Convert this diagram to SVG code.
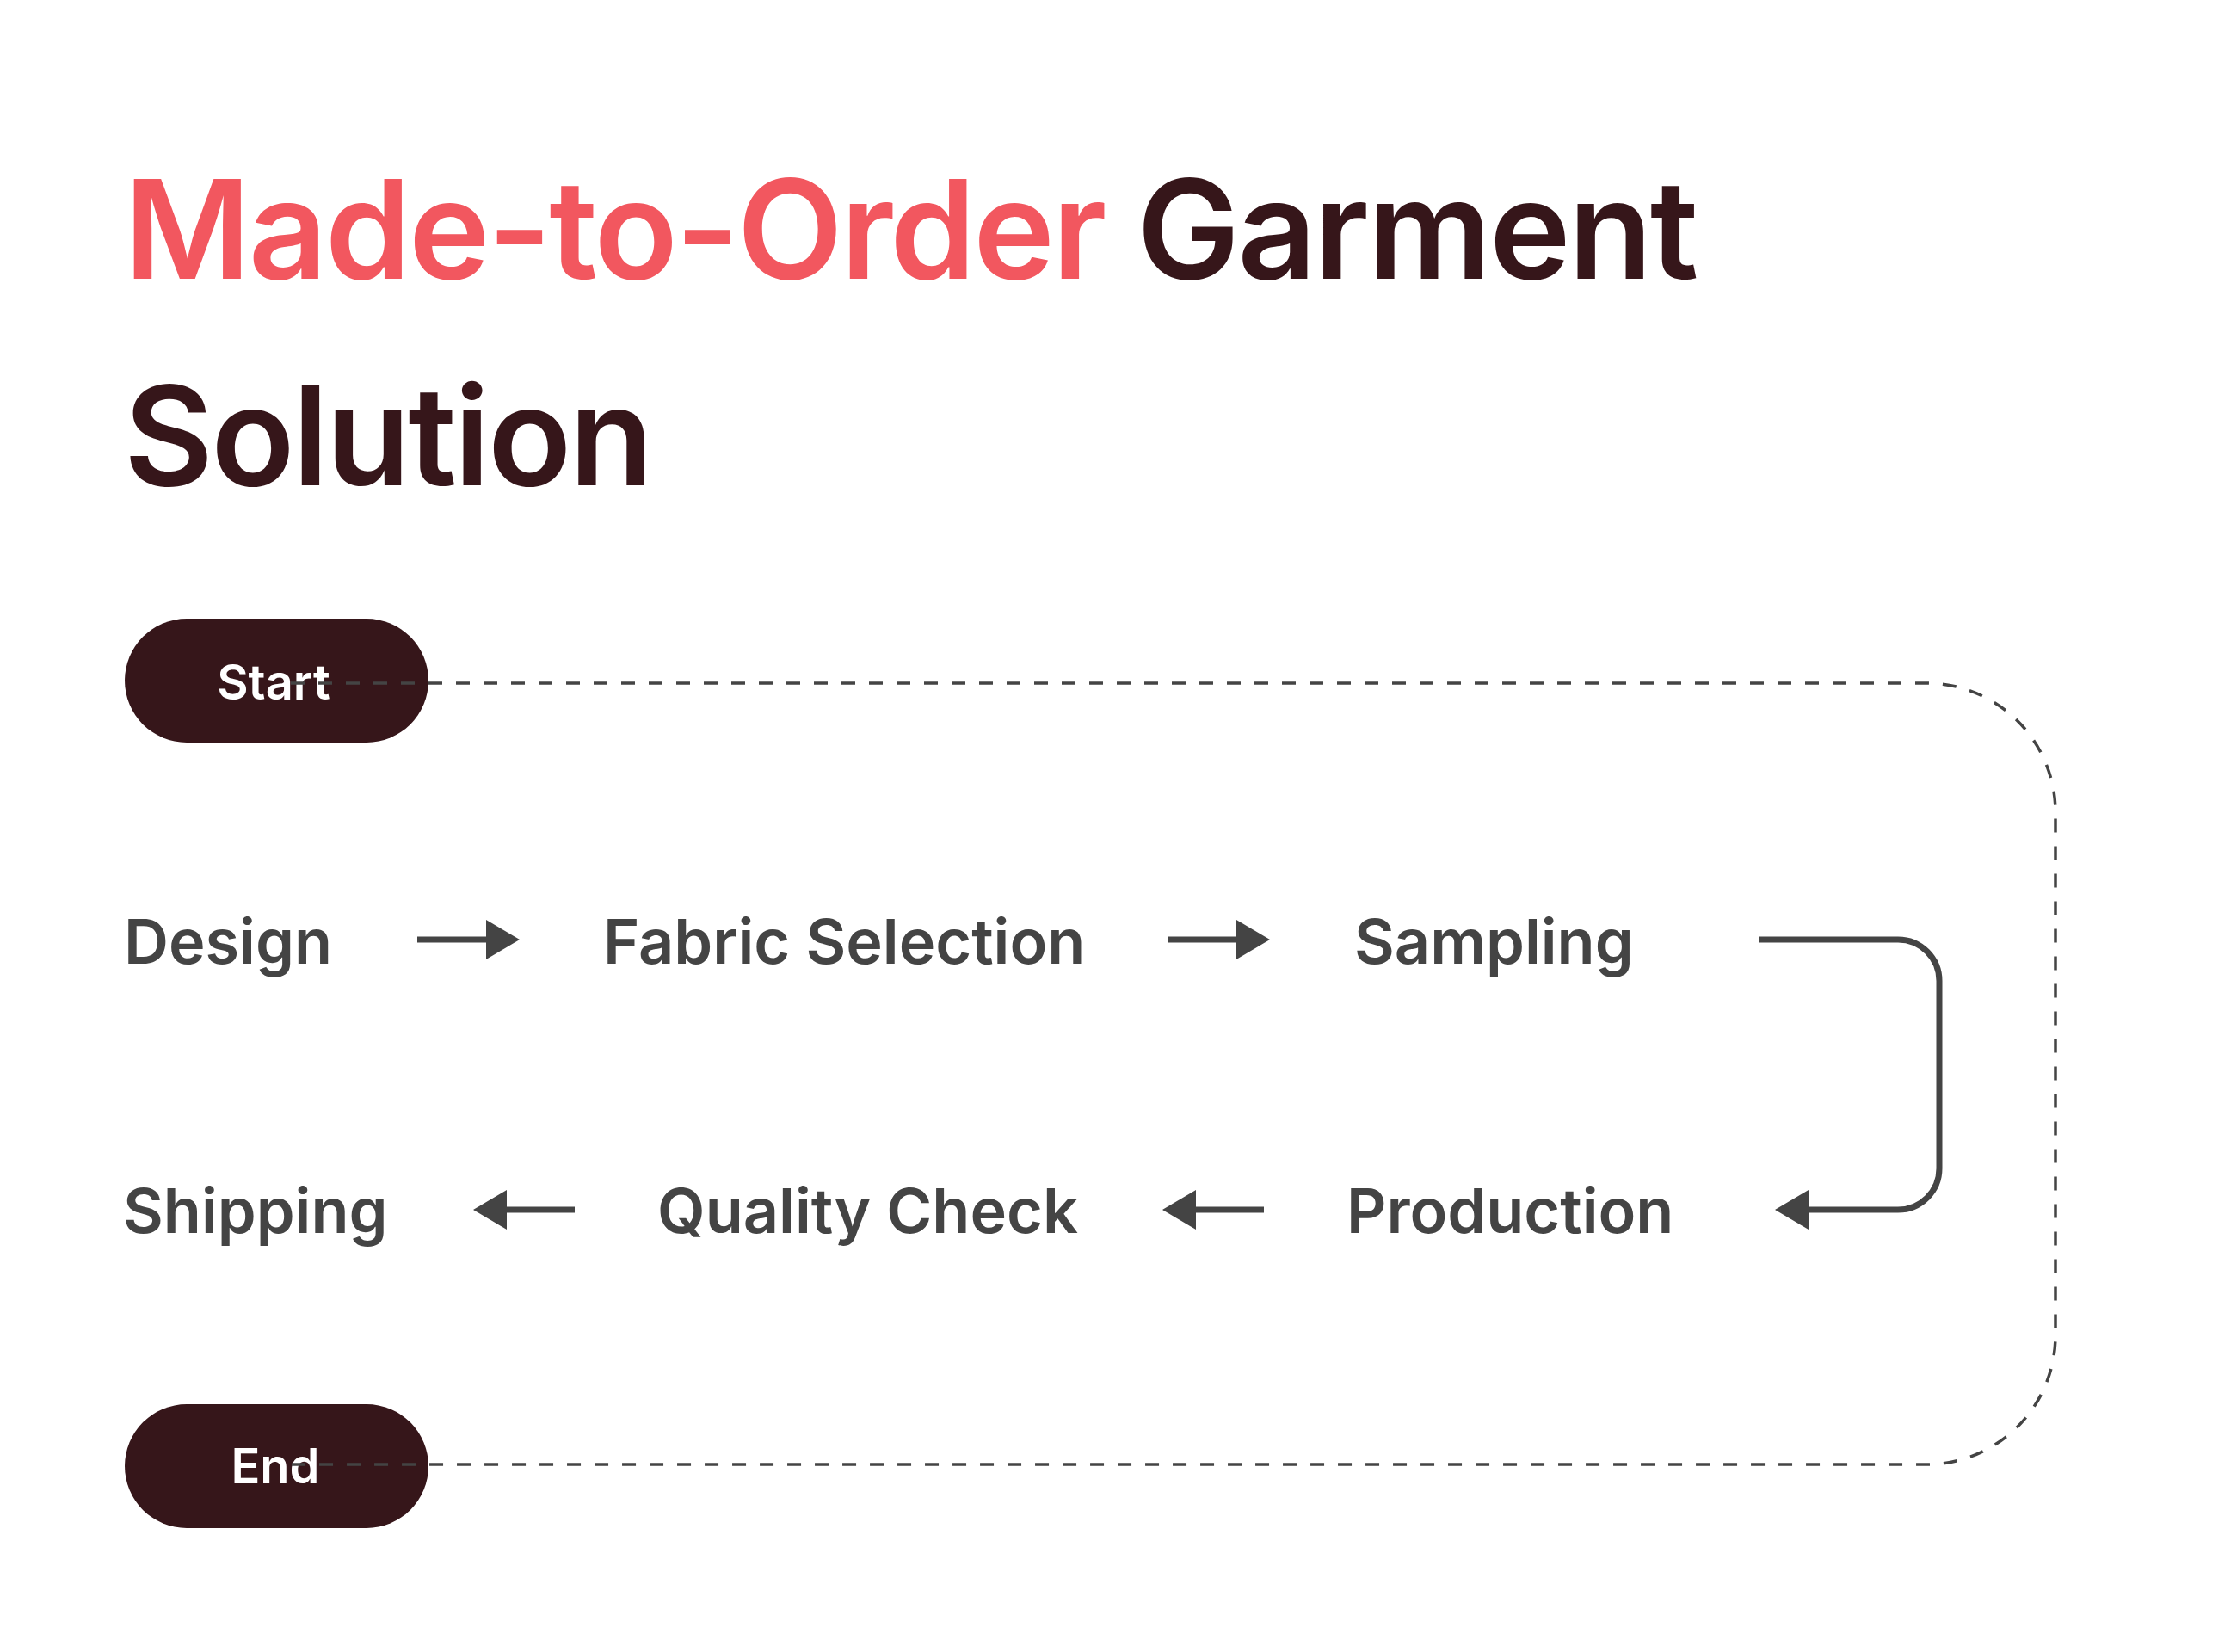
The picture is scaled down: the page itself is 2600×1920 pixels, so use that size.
<svg xmlns="http://www.w3.org/2000/svg" width="2600" height="1920" viewBox="0 0 2600 1920">
  <style>
    .title { font-family: Inter, "Noto Sans", "Liberation Sans", sans-serif; font-size: 160px; font-weight: 600; fill: #36161A; letter-spacing: -2.8px; }
    .accent { fill: #F2575F; }
    .label { font-family: Inter, "Noto Sans", "Liberation Sans", sans-serif; font-size: 72px; font-weight: 600; fill: #444444; }
    .pill { fill: #36161A; }
    .pilltext { font-family: Inter, "Noto Sans", "Liberation Sans", sans-serif; font-size: 56px; font-weight: 600; fill: #FFFFFF; text-anchor: middle; }
    .flow { fill: none; stroke: #444444; stroke-width: 7; }
    .loop { fill: none; stroke: #444444; stroke-width: 3.5; stroke-dasharray: 16 16; }
  </style>
  <defs>
    <marker id="head" markerUnits="userSpaceOnUse" markerWidth="40" markerHeight="48" refX="5" refY="24" orient="auto">
      <path d="M0,1 L39,24 L0,47 Z" fill="#444444"/>
    </marker>
  </defs>
  <rect width="2600" height="1920" fill="#FFFFFF"/>

  <g id="title">
    <text class="title" x="144" y="324"><tspan class="accent">Made-to-Order</tspan> Garment</text>
    <text class="title" x="144" y="564">Solution</text>
  </g>

  <g id="node-start">
    <rect class="pill" x="145" y="719" width="353" height="144" rx="72"/>
    <text class="pilltext" x="318" y="813">Start</text>
  </g>
  <g id="node-design"><text class="label" x="144" y="1120">Design</text></g>
  <g id="node-fabric"><text class="label" x="701" y="1120">Fabric Selection</text></g>
  <g id="node-sampling"><text class="label" x="1574" y="1120">Sampling</text></g>
  <g id="node-production"><text class="label" x="1565" y="1433">Production</text></g>
  <g id="node-quality"><text class="label" x="764" y="1433">Quality Check</text></g>
  <g id="node-shipping"><text class="label" x="143" y="1433">Shipping</text></g>
  <g id="node-end">
    <rect class="pill" x="145" y="1632" width="353" height="144" rx="72"/>
    <text class="pilltext" x="320" y="1724">End</text>
  </g>

  <g id="connectors">
    <path class="loop" d="M338 794 H2239 A150 150 0 0 1 2389 944 V1552 A150 150 0 0 1 2239 1702 H338"/>
    <path class="flow" d="M485 1092 H570" marker-end="url(#head)"/>
    <path class="flow" d="M1358 1092 H1442" marker-end="url(#head)"/>
    <path class="flow" d="M2044 1092 H2206 A48 48 0 0 1 2254 1140 V1358 A48 48 0 0 1 2206 1406 H2097" marker-end="url(#head)"/>
    <path class="flow" d="M1469 1406 H1385" marker-end="url(#head)"/>
    <path class="flow" d="M668 1406 H584" marker-end="url(#head)"/>
  </g>
</svg>
